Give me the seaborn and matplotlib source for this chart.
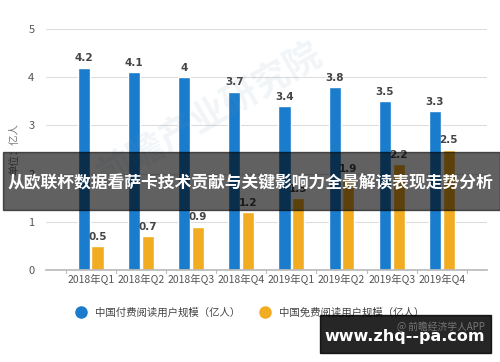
import pandas as pd
import matplotlib
matplotlib.use("Agg")
import matplotlib.pyplot as plt
from matplotlib.lines import Line2D
from matplotlib.patches import Rectangle
import seaborn as sns

# Chart data
quarters = ["2018年Q1", "2018年Q2", "2018年Q3", "2018年Q4",
            "2019年Q1", "2019年Q2", "2019年Q3", "2019年Q4"]
paid_users = [4.2, 4.1, 4.0, 3.7, 3.4, 3.8, 3.5, 3.3]
free_users = [0.5, 0.7, 0.9, 1.2, 1.5, 1.9, 2.2, 2.5]
series_names = ["中国付费阅读用户规模（亿人）", "中国免费阅读用户规模（亿人）"]
colors = ["#1a7ccc", "#f2ac22"]

df = pd.DataFrame({
    "quarter": quarters * 2,
    "value": paid_users + free_users,
    "series": [series_names[0]] * len(quarters) + [series_names[1]] * len(quarters),
})

sns.set_theme(style="white")
plt.rcParams["font.family"] = ["Noto Sans CJK SC", "DejaVu Sans"]

fig = plt.figure(figsize=(5, 3.62), dpi=100)
ax = fig.add_axes([0.091, 0.254, 0.883, 0.666])

sns.barplot(data=df, x="quarter", y="value", hue="series", palette=colors,
            width=0.55, gap=0.12, ax=ax, legend=False, saturation=1)

ax.set_ylim(0, 5)
ax.set_yticks([0, 1, 2, 3, 4, 5])
ax.yaxis.grid(True, color="#dddddd", linewidth=0.8)
ax.set_axisbelow(True)
for side in ["left", "right", "top"]:
    ax.spines[side].set_visible(False)
ax.spines["bottom"].set_color("#bbbbbb")
ax.tick_params(axis="y", length=0, labelsize=8, labelcolor="#555555", pad=8)
ax.tick_params(axis="x", length=0, labelsize=7.5, labelcolor="#555555", pad=3)
ax.set_xlabel("")
ax.set_ylabel("单位：亿人", fontsize=7.5, color="#777777", labelpad=6)

# tick marks between groups
for i in range(len(quarters) + 1):
    ax.plot([i - 0.5, i - 0.5], [0, -0.06], color="#bbbbbb", lw=0.8, clip_on=False)

for cont in ax.containers:
    ax.bar_label(cont, fmt="{:g}", padding=3, fontsize=7.5, fontweight="bold",
                 color="#444444", family="DejaVu Sans")

# faint watermark
fig.text(0.42, 0.68, "前瞻产业研究院", fontsize=26, color="#7a9ab8", alpha=0.1,
         rotation=30, ha="center", va="center", fontweight="bold")

handles = [Line2D([], [], marker="o", linestyle="", markersize=8,
                  markerfacecolor=c, markeredgecolor=c) for c in colors]
fig.legend(handles, series_names, loc="center", bbox_to_anchor=(0.495, 0.137),
           ncol=2, frameon=False, fontsize=7.5, handletextpad=0.4,
           columnspacing=1.3, labelcolor="#444444")

# title banner overlay
fig.add_artist(Rectangle((0.006, 1 - 210 / 362), 0.994, 58 / 362,
                         transform=fig.transFigure, color="black", alpha=0.62,
                         zorder=10))
fig.text(0.5, 1 - 183 / 362, "从欧联杯数据看萨卡技术贡献与关键影响力全景解读表现走势分析",
         fontsize=12.1, color="white", fontweight="bold", ha="center",
         va="center", zorder=11)

# source + site watermark
fig.add_artist(Rectangle((320 / 500, 1 - 353 / 362), 171 / 500, 38 / 362,
                         transform=fig.transFigure, color="black", alpha=0.85,
                         zorder=10))
fig.text(0.97, 1 - 327 / 362, "@ 前瞻经济学人APP", fontsize=7, color="#777777",
         ha="right", va="center", zorder=11)
fig.text(405 / 500, 1 - 337 / 362, "www.zhq--pa.com", fontsize=11.5, color="white",
         fontweight="bold", ha="center", va="center", zorder=12,
         family="DejaVu Sans")

fig.savefig("out.png", dpi=100)
